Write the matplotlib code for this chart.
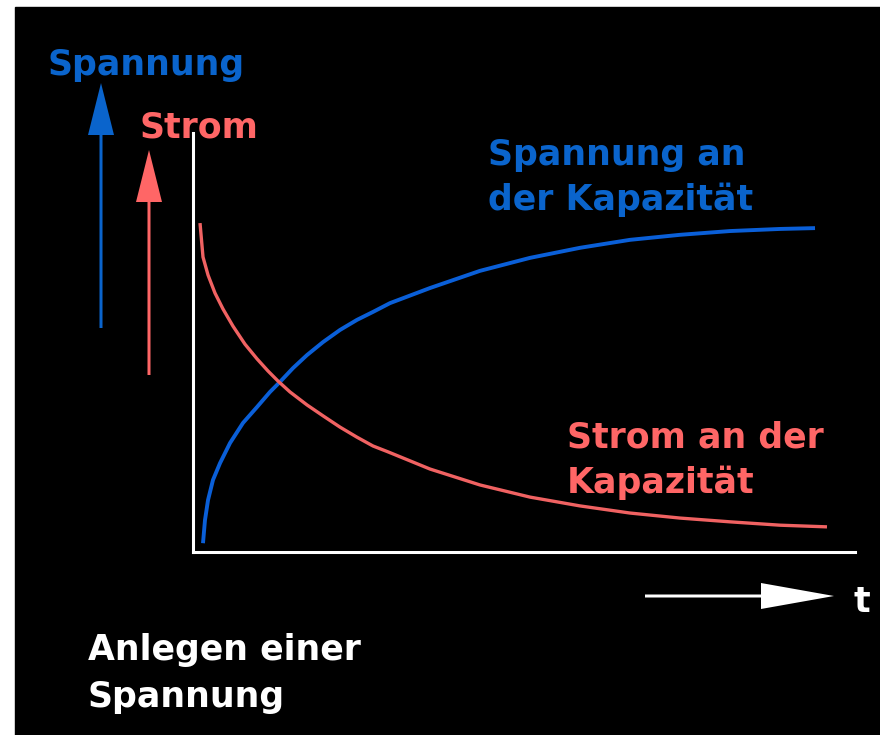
import numpy as np
import matplotlib
matplotlib.use('Agg')
import matplotlib.pyplot as plt
from matplotlib.patches import Rectangle, FancyArrow

# time axis (arbitrary units) and normalised curves in percent
t_voltage = [0.151, 0.181, 0.227, 0.302, 0.408, 0.559, 0.755, 0.967, 1.163,
             1.314, 1.511, 1.722, 1.964, 2.221, 2.477, 2.719, 2.976, 3.580,
             4.335, 5.091, 5.846, 6.601, 7.356, 8.112, 8.867, 9.396]
voltage = [2.1, 7.6, 12.4, 17.2, 21.2, 26.0, 30.8, 34.6, 38.2,
           40.6, 43.9, 47.0, 50.1, 53.0, 55.4, 57.3, 59.4, 63.0,
           67.1, 70.2, 72.6, 74.5, 75.7, 76.6, 77.1, 77.3]

t_current = [0.106, 0.151, 0.227, 0.332, 0.453, 0.604, 0.785, 0.967, 1.133,
             1.284, 1.465, 1.722, 1.964, 2.221, 2.477, 2.719, 2.946, 3.580,
             4.335, 5.091, 5.846, 6.601, 7.356, 8.112, 8.867, 9.577]
current = [78.5, 70.4, 66.1, 61.8, 58.0, 53.9, 49.6, 46.1, 43.2,
           40.8, 38.2, 35.1, 32.5, 29.8, 27.4, 25.3, 23.9, 19.8,
           16.0, 13.1, 11.0, 9.3, 8.1, 7.2, 6.4, 6.0]

blue = '#0a64cc'
red = '#ff6666'
line_blue = '#0a5fd8'
line_red = '#f06262'

W, H = 880, 735
fig = plt.figure(figsize=(W / 100, H / 100), dpi=100, facecolor='white')

# overlay in pixel units for background, labels and arrows
bg = fig.add_axes([0, 0, 1, 1])
bg.set_xlim(0, W)
bg.set_ylim(H, 0)
bg.axis('off')
bg.add_patch(Rectangle((15, 7), W - 15, H - 7, color='black', zorder=0))

font = dict(family='DejaVu Sans', fontweight='bold', fontsize=25, va='baseline')

bg.text(48, 75, 'Spannung', color=blue, **font)
bg.text(140, 137, 'Strom', color=red, **font)
bg.text(488, 165, 'Spannung an', color=blue, **font)
bg.text(488, 210, 'der Kapazität', color=blue, **font)
bg.text(567, 447, 'Strom an der', color=red, **font)
bg.text(567, 493, 'Kapazität', color=red, **font)
bg.text(88, 660, 'Anlegen einer', color='white', **font)
bg.text(88, 707, 'Spannung', color='white', **font)
bg.text(853, 612, 't', color='white', **font)

bg.add_patch(FancyArrow(101, 328, 0, 83 - 328, width=3, head_width=26,
                        head_length=52, length_includes_head=True,
                        color=blue, lw=0))
bg.add_patch(FancyArrow(149, 375, 0, 150 - 375, width=3, head_width=26,
                        head_length=52, length_includes_head=True,
                        color=red, lw=0))
bg.add_patch(FancyArrow(645, 596, 834 - 645, 0, width=3, head_width=26,
                        head_length=73, length_includes_head=True,
                        color='white', lw=0))

# main plot area
ax = fig.add_axes([193 / W, 1 - 552 / H, 662 / W, 419 / H])
ax.set_facecolor('none')
ax.plot(t_voltage, voltage, color=line_blue, lw=2.8, solid_capstyle='butt',
        solid_joinstyle='round')
ax.plot(t_current, current, color=line_red, lw=2.4, solid_capstyle='butt',
        solid_joinstyle='round')
ax.set_xlim(0, 10)
ax.set_ylim(0, 100)
for side in ['top', 'right']:
    ax.spines[side].set_visible(False)
for side in ['left', 'bottom']:
    ax.spines[side].set_color('white')
    ax.spines[side].set_linewidth(2.2)
ax.set_xticks([])
ax.set_yticks([])

fig.savefig('out.png', dpi=100, facecolor=fig.get_facecolor())
